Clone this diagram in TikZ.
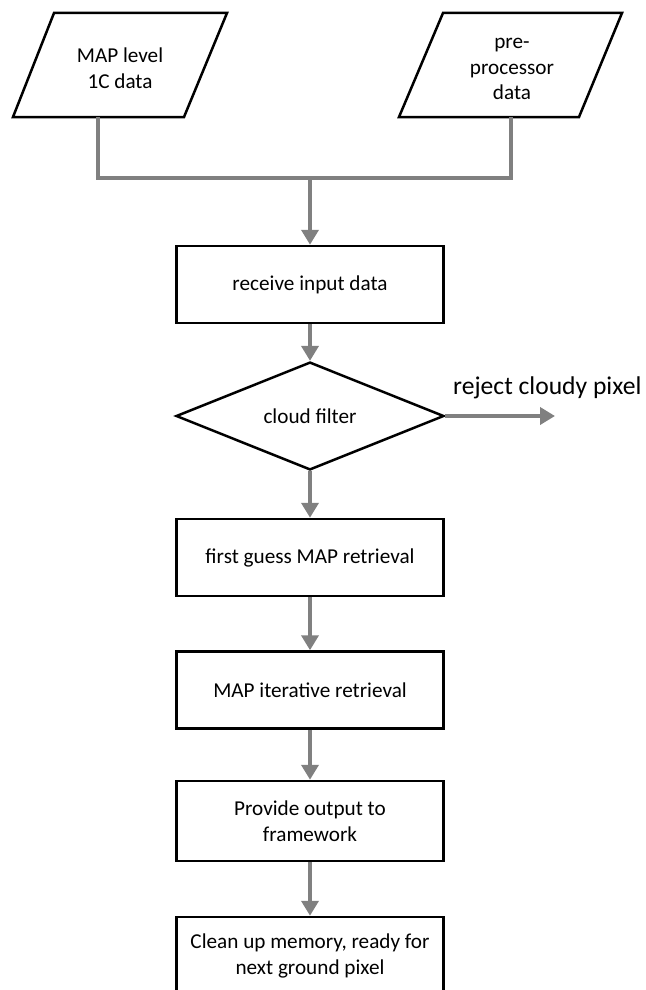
\documentclass[tikz,border=0pt]{standalone}
\usepackage{fontspec}
\setmainfont{Carlito}
\usetikzlibrary{arrows.meta,shapes.geometric}

\tikzset{
  outline/.style={draw=black, line width=2.5pt, line join=miter},
  boxfont/.style={font=\fontsize{21.2}{25.5}\selectfont},
  stepbox/.style={outline, rectangle, minimum width=267pt, minimum height=77pt,
    inner sep=0pt, align=center, boxfont},
  decision/.style={outline, diamond, minimum width=268pt, minimum height=82pt,
    inner sep=0pt, boxfont},
  intext/.style={inner sep=0pt, align=center, boxfont},
  flow/.style={draw=gray, line width=4pt},
  flowarrow/.style={flow, -{Triangle[width=17pt,length=15pt]}},
}

\begin{document}
\begin{tikzpicture}[x=1pt,y=-1pt]
\useasboundingbox (0,0) rectangle (645,990);

% input data sources (parallelograms)
\draw[outline] (13,117) -- (54,13) -- (227,13) -- (184,117) -- cycle;
\node[intext] (l1c) at (120,68) {MAP level\\1C data};
\draw[outline] (399,117) -- (443,13) -- (622,13) -- (579,117) -- cycle;
\node[intext] (pre) at (512,69) {pre-\\processor\\data};

\coordinate (l1cout) at (98,117);
\coordinate (preout) at (511,117);
\coordinate (join) at (310,178);

% processing chain
\node[stepbox] (recv) at (310,284.5) {receive input data};
\node[decision] (cloud) at (310,416) {cloud filter};
\node[stepbox] (first) at (310,557.5) {first guess MAP retrieval};
\node[stepbox] (iter) at (310,690) {MAP iterative retrieval};
\node[stepbox, minimum height=80pt] (out) at (310,821) {Provide output to\\framework};
\node[stepbox, minimum height=78pt] (clean) at (310,956) {Clean up memory, ready for\\next ground pixel};

% rejected branch
\coordinate (rejend) at (555,416);
\node[anchor=west, inner sep=0pt, font=\fontsize{25.6}{30}\selectfont] (rej) at (453,388) {reject cloudy pixel};

% connectors
\draw[flow, line cap=butt] (l1cout) |- (join) -| (preout);
\draw[flowarrow] (join) -- (recv.north);
\draw[flowarrow] (recv.south) -- (cloud.north);
\draw[flowarrow] (cloud.east) -- (rejend);
\draw[flowarrow] (cloud.south) -- (first.north);
\draw[flowarrow] (first.south) -- (iter.north);
\draw[flowarrow] (iter.south) -- (out.north);
\draw[flowarrow] (out.south) -- (clean.north);
\end{tikzpicture}
\end{document}
